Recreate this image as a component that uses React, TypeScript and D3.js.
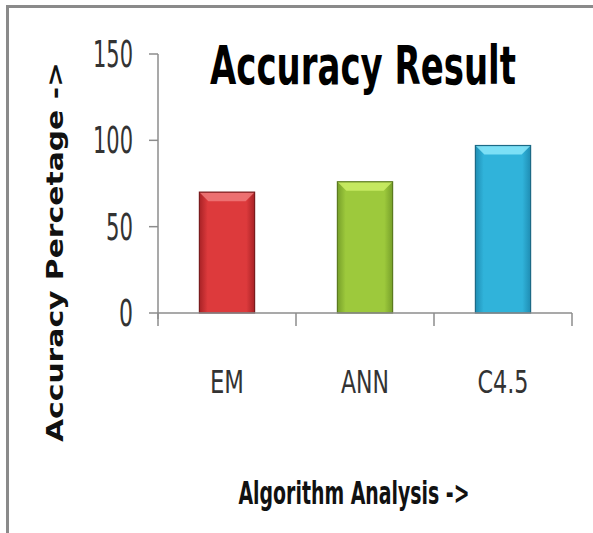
import React from "react";
import { scaleBand, scaleLinear } from "d3";

// values
const categories = ["EM", "ANN", "C4.5"];
const accuracy = [70, 76, 97];
const yTicks = [0, 50, 100, 150];
const tickLabelWidth = [14, 27, 40, 40];
const catLabelWidth = [34, 48, 51];

// base / edge / bevel / outline
const barMain = ["#dd3a3c", "#9dc93c", "#30b3da"];
const barEdge = ["#a82226", "#77a02a", "#1f8db3"];
const barTop = ["#f07a7a", "#cdee66", "#8ae8fa"];
const barLine = ["#7a1b1d", "#5b7a1f", "#1c6a86"];

const W = 593;
const H = 533;
const narrow = "'Liberation Sans Narrow', 'DejaVu Sans Condensed', sans-serif";

const App = () => {
  const x = scaleBand<string>()
    .domain(categories)
    .range([158, 572])
    .paddingInner(0.6)
    .paddingOuter(0.3);
  const y = scaleLinear().domain([0, 150]).range([313, 54]);
  const step = x.step();
  const bw = x.bandwidth();
  const bevel = 9;

  return (
    <div style={{ position: "absolute", left: 0, top: 0 }}>
      <svg width={W} height={H} style={{ display: "block", background: "#fff" }}>
        <defs>
          {categories.map((c, i) => (
            <linearGradient key={c} id={"g" + i} x1="0" x2="1" y1="0" y2="0">
              <stop offset="0" stopColor={barEdge[i]} />
              <stop offset="0.15" stopColor={barMain[i]} />
              <stop offset="0.85" stopColor={barMain[i]} />
              <stop offset="1" stopColor={barEdge[i]} />
            </linearGradient>
          ))}
        </defs>

        {/* frame, top and left only */}
        <line x1={6} x2={W} y1={6.5} y2={6.5} stroke="#8a8a8a" strokeWidth={3} />
        <line x1={7.5} x2={7.5} y1={5} y2={H} stroke="#8a8a8a" strokeWidth={3} />

        {/* bars */}
        {categories.map((c, i) => {
          const x0 = x(c)!;
          const yt = y(accuracy[i]);
          const y0 = y(0);
          return (
            <g key={c}>
              <rect x={x0} y={yt} width={bw} height={y0 - yt} fill={`url(#g${i})`} />
              <path
                d={`M${x0},${yt}L${x0 + bw},${yt}L${x0 + bw - bevel},${yt + bevel}L${x0 + bevel},${yt + bevel}Z`}
                fill={barTop[i]}
                opacity={0.85}
              />
              <rect
                x={x0}
                y={yt}
                width={bw}
                height={y0 - yt}
                fill="none"
                stroke={barLine[i]}
                strokeWidth={1.2}
              />
            </g>
          );
        })}

        {/* y axis */}
        <line x1={158} x2={158} y1={y(150)} y2={y(0) + 6} stroke="#8c8c8c" strokeWidth={1.5} />
        {yTicks.map((t, i) => (
          <g key={t}>
            <line x1={149} x2={158} y1={y(t)} y2={y(t)} stroke="#8c8c8c" strokeWidth={1.5} />
            <text
              x={133}
              y={y(t) + 13}
              textAnchor="end"
              fontFamily={narrow}
              fontSize={37}
              fill="#333"
              textLength={tickLabelWidth[i]}
              lengthAdjust="spacingAndGlyphs"
            >
              {t}
            </text>
          </g>
        ))}

        {/* x axis */}
        <line x1={158} x2={572} y1={y(0)} y2={y(0)} stroke="#8c8c8c" strokeWidth={1.5} />
        {[0, 1, 2, 3].map((k) => (
          <line
            key={k}
            x1={158 + k * step}
            x2={158 + k * step}
            y1={y(0)}
            y2={y(0) + 13}
            stroke="#8c8c8c"
            strokeWidth={1.5}
          />
        ))}
        {categories.map((c, i) => (
          <text
            key={c}
            x={x(c)! + bw / 2}
            y={393}
            textAnchor="middle"
            fontFamily={narrow}
            fontSize={32}
            fill="#333"
            textLength={catLabelWidth[i]}
            lengthAdjust="spacingAndGlyphs"
          >
            {c}
          </text>
        ))}

        {/* titles */}
        <text
          x={363}
          y={84}
          textAnchor="middle"
          fontFamily={narrow}
          fontWeight="bold"
          fontSize={53}
          fill="#000"
          textLength={306}
          lengthAdjust="spacingAndGlyphs"
        >
          Accuracy Result
        </text>
        <text
          x={354}
          y={504}
          textAnchor="middle"
          fontFamily={narrow}
          fontWeight="bold"
          fontSize={32}
          fill="#111"
          textLength={231}
          lengthAdjust="spacingAndGlyphs"
        >
          Algorithm Analysis -&gt;
        </text>
        <text
          transform="translate(63,252) rotate(-90)"
          textAnchor="middle"
          fontFamily="'DejaVu Sans', sans-serif"
          fontWeight="bold"
          fontSize={23}
          fill="#111"
          textLength={380}
          lengthAdjust="spacingAndGlyphs"
        >
          Accuracy Percetage -&gt;
        </text>
      </svg>
    </div>
  );
};

export default App;
